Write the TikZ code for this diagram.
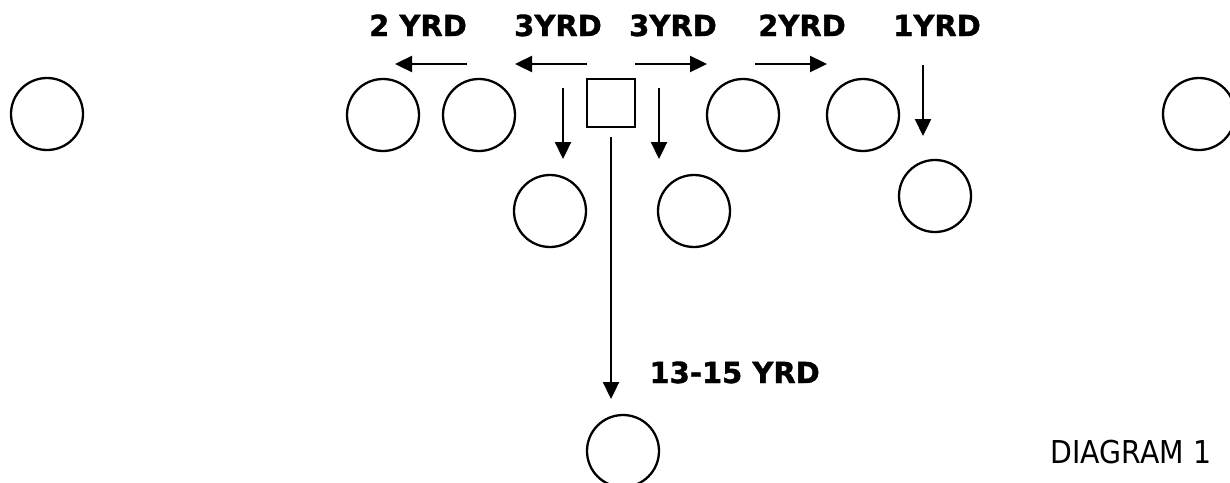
\documentclass[tikz,border=0pt]{standalone}
\usepackage{fontspec}
\setmainfont{DejaVu Sans}
\newfontfamily\diagfont{DejaVu Sans}[FakeStretch=0.9]
\newfontfamily\yrdfont{DejaVu Sans Bold}[FakeBold=1.2]
\usetikzlibrary{arrows.meta}
\begin{document}
\begin{tikzpicture}[x=1pt,y=-1pt,
  player/.style={draw,line width=2.3pt,circle,minimum size=72pt,inner sep=0pt},
  center/.style={draw,line width=2.3pt,rectangle,minimum size=48pt,inner sep=0pt},
  route/.style={line width=2.3pt,-{Triangle[length=17pt,width=16pt]}},
  yrd/.style={font=\yrdfont\fontsize{29}{34}\selectfont,anchor=base}]
\useasboundingbox (0,0) rectangle (1230,482);
% line of scrimmage
\node[player] (p1) at (47,114) {};
\node[player] (p2) at (383,115) {};
\node[player] (p3) at (479,115) {};
\node[center] (c) at (611,103) {};
\node[player] (p4) at (743,115) {};
\node[player] (p5) at (863,115) {};
\node[player] (p6) at (1199,114) {};
% second level
\node[player] (l1) at (550,211) {};
\node[player] (l2) at (694,211) {};
\node[player] (l3) at (935,196) {};
\node[player] (s) at (623,451) {};
% labels
\node[yrd] (t1) at (418,36) {2 YRD};
\node[yrd] (t2) at (558,36) {3YRD};
\node[yrd] (t3) at (673,36) {3YRD};
\node[yrd] (t4) at (802,36) {2YRD};
\node[yrd] (t5) at (937,36) {1YRD};
\node[yrd,anchor=base west] (t6) at (646,383) {13-15 YRD};
\node[font=\diagfont\fontsize{31.5}{36}\selectfont,anchor=base west] (dg) at (1047,463) {DIAGRAM 1};
% arrow coordinates
\coordinate (a1s) at (467,64); \coordinate (a1e) at (395,64);
\coordinate (a2s) at (587,64); \coordinate (a2e) at (515,64);
\coordinate (a3s) at (635,64); \coordinate (a3e) at (707,64);
\coordinate (a4s) at (755,64); \coordinate (a4e) at (827,64);
\coordinate (d1s) at (563,88); \coordinate (d1e) at (563,159);
\coordinate (d2s) at (659,88); \coordinate (d2e) at (659,159);
\coordinate (d3s) at (923,65); \coordinate (d3e) at (923,136);
\coordinate (ls) at (611,137); \coordinate (le) at (611,399);
\draw[route] (a1s) -- (a1e);
\draw[route] (a2s) -- (a2e);
\draw[route] (a3s) -- (a3e);
\draw[route] (a4s) -- (a4e);
\draw[route] (d1s) -- (d1e);
\draw[route] (d2s) -- (d2e);
\draw[route] (d3s) -- (d3e);
\draw[route] (ls) -- (le);
\end{tikzpicture}
\end{document}
